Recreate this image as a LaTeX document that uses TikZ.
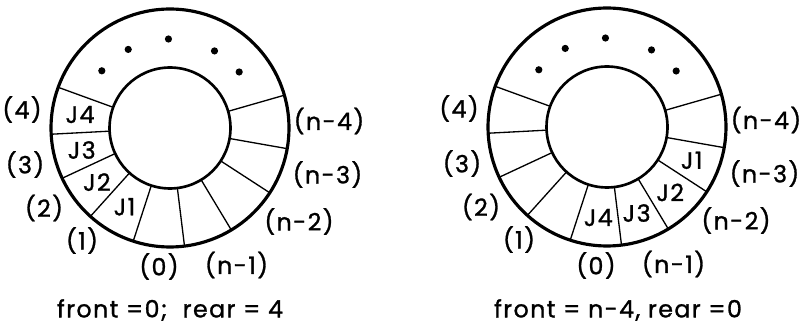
\documentclass[tikz,border=0pt]{standalone}
\usepackage{fontspec}
\setmainfont{Poppins}[LetterSpace=6, FakeBold=1.2]
\usepackage{tikz}
\usetikzlibrary{positioning}
\tikzset{
  rim/.style={draw, circle, line width=1.8pt, inner sep=0pt, outer sep=0pt, minimum size=4.76cm},
  hub/.style={draw, circle, line width=1.5pt, inner sep=0pt, outer sep=0pt, minimum size=2.42cm},
  spoke/.style={line width=0.75pt},
  idx/.style={font=\fontsize{13.5}{16}\selectfont, inner sep=1pt},
  job/.style={font=\fontsize{13.5}{16}\selectfont, inner sep=1pt},
  capt/.style={font=\fontsize{13.5}{16}\selectfont}
}
\begin{document}
\begin{tikzpicture}[x=0.02cm, y=0.02cm]
\useasboundingbox (0,0) rectangle (810,324);
% the two circular queues
\foreach \q/\cx/\cy in {L/170/196, R/607/197}{
  \node[rim] (\q rim) at (\cx,\cy) {};
  \node[hub] (\q hub) at (\cx,\cy) {};
  \foreach \a in {160,183,205,228,252,277,301,327,350,16}
    \draw[spoke] (\q hub.\a) -- (\q rim.\a);
  \begin{scope}[shift={(\cx,\cy)}]
    \foreach \a in {39,60,91,118,140}
      \fill (\a:89) circle (3.6);
    \foreach \nm/\dx/\dy/\t in {i4/-148/18.5/(4), i3/-145/-36.5/(3), i2/-126/-80/(2),
        i1/-88/-112.5/(1), i0/-11/-138.5/(0), in1/66.5/-137/(n-1),
        in2/129/-93.5/(n-2), in3/157.5/-46.5/(n-3), in4/159/7/(n-4)}
      \node[idx] (\q\nm) at (\dx,\dy) {\t};
  \end{scope}
}
% jobs in the slots
\begin{scope}[shift={(170,196)}]
  \foreach \n/\a in {4/171.5, 3/194, 2/216.5, 1/240}
    \node[job] (LJ\n) at (\a:91) {J\n};
\end{scope}
\begin{scope}[shift={(607,197)}]
  \foreach \n/\a in {1/338.5, 2/314, 3/289, 4/264.5}
    \node[job] (RJ\n) at (\a:91) {J\n};
\end{scope}
\node[capt] (Lcapt) at (170,14) {front =0;\ \ rear = 4};
\node[capt] (Rcapt) at (618,14) {front = n-4, rear =0};
\end{tikzpicture}
\end{document}
